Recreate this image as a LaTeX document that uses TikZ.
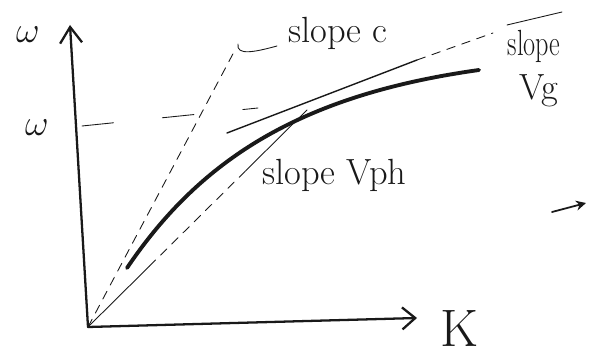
\documentclass[tikz,border=0pt]{standalone}
\usepackage{tikz}
\usetikzlibrary{arrows.meta, calc}
\definecolor{pencil}{RGB}{25,25,25}

\begin{document}
\begin{tikzpicture}[x=0.02cm, y=-0.02cm, line cap=round,
    thinline/.style={pencil, line width=0.5pt},
    dashline/.style={pencil, line width=0.5pt, dash pattern=on 5pt off 4pt},
    axisline/.style={pencil, line width=1.3pt},
    hand/.style={pencil, inner sep=0pt}]
  \useasboundingbox (0,0) rectangle (592,354);

  % axes
  \coordinate (origin) at (88,327);
  \coordinate (ytip) at (70,25);
  \coordinate (xtip) at (417,318);
  \draw[axisline, -{Straight Barb[length=3.2mm, width=4.4mm]}] (origin) -- (ytip);
  \draw[axisline, -{Straight Barb[length=2.6mm, width=4.4mm]}] (origin) -- (xtip);
  \node[hand, font=\huge] (wtop) at (28,35) {$\omega$};
  \node[hand, font=\huge] (wlevel) at (37,128) {$\omega$};
  \node[hand, font=\fontsize{30}{30}\selectfont, anchor=north west] (klabel) at (440,310) {K};

  % dispersion curve, tangent point
  \coordinate (tp) at (307,110);
  \draw[pencil, line width=2.2pt]
    (127,268) .. controls (200,160) and (300,95) .. (479,70);

  % omega level
  \draw[thinline, dash pattern=on 18pt off 28pt] (82,126) -- (258,108);

  % slope c
  \coordinate (cend) at (235,50);
  \draw[dashline] (origin) -- (cend);
  \draw[thinline] (238,44) .. controls (236,56) and (255,52) .. (277,46);
  \node[hand, font=\huge, anchor=base west] (cslope) at (288,43) {slope c};

  % slope Vph (line from origin to tangent point)
  \draw[thinline] (origin) -- ($(origin)!0.28!(tp)$);
  \draw[dashline] ($(origin)!0.28!(tp)$) -- ($(origin)!0.72!(tp)$);
  \draw[thinline] ($(origin)!0.72!(tp)$) -- (tp);
  \node[hand, font=\huge, anchor=base west] (phslope) at (262,185) {slope Vph};

  % slope Vg (tangent)
  \coordinate (gstart) at (227,133);
  \coordinate (gbreak) at (417,60);
  \coordinate (gend) at (493,33);
  \draw[thinline, line width=0.8pt] (gstart) -- (gbreak);
  \draw[dashline] (gbreak) -- (gend);
  \draw[thinline] (507,25) -- (562,12);
  \node[hand, font=\huge, anchor=base] (gslope) at (534,56) {\scalebox{0.72}[1]{slope}};
  \node[hand, font=\huge, anchor=base] (gvel) at (539,100) {Vg};

  % stray arrow on the right
  \coordinate (sa) at (552,212);
  \coordinate (sb) at (586,203);
  \draw[pencil, line width=1pt, -{Stealth[length=2mm, width=2mm]}] (sa) -- (sb);
\end{tikzpicture}
\end{document}
